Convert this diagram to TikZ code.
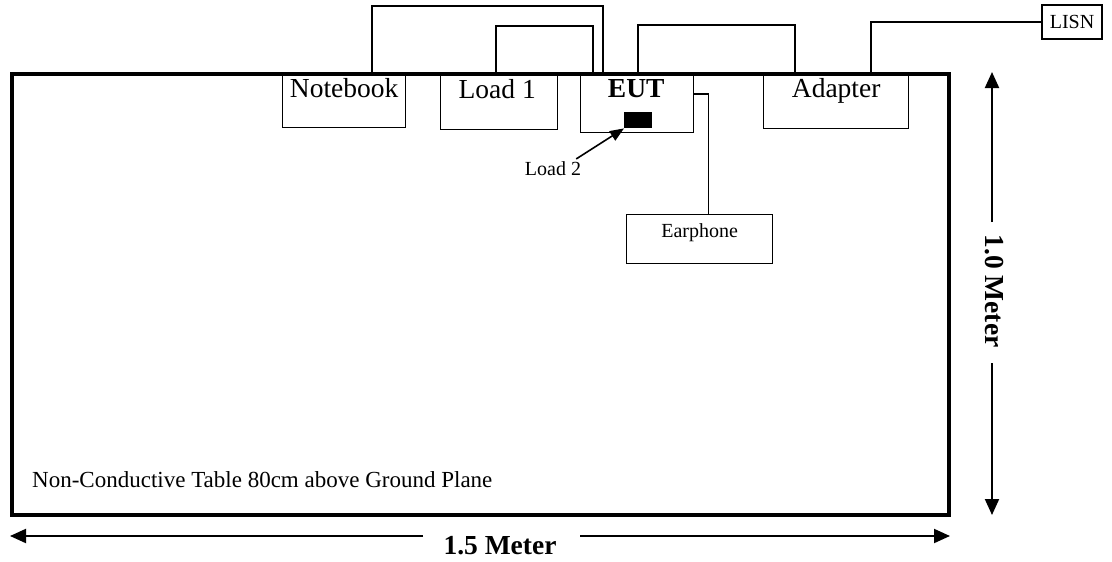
\documentclass[tikz,border=0pt]{standalone}
\usepackage{fontspec}
\setmainfont{Liberation Serif}
\usetikzlibrary{arrows.meta,calc}
\begin{document}
\begin{tikzpicture}[x=1pt,y=-1pt,
  box/.style={draw, line width=1.4pt, anchor=north west, inner sep=0pt},
  wire/.style={line width=1.3pt},
  big/.style={font=\fontsize{27.5}{30}\selectfont, anchor=base, inner sep=0pt},
  small/.style={font=\fontsize{20}{22}\selectfont, inner sep=0pt},
  dimline/.style={line width=2pt, -{Triangle[length=16pt,width=14pt]}}]
\useasboundingbox (0,0) rectangle (1112,562);
% table
\node[draw, line width=3.5pt, minimum width=937pt, minimum height=441pt, anchor=north west, inner sep=0pt] (table) at (10,72) {};
% boxes
\node[box, minimum width=123pt, minimum height=55pt] (nb) at (282,72) {};
\node[box, minimum width=117pt, minimum height=57pt] (l1) at (440,72) {};
\node[box, minimum width=113pt, minimum height=60pt] (eut) at (580,72) {};
\node[box, minimum width=145pt, minimum height=56pt] (ad) at (763,72) {};
\node[box, minimum width=146pt, minimum height=49pt] (ear) at (626,214) {};
\node[draw, line width=1.4pt, minimum width=60pt, minimum height=34pt, inner sep=0pt, font=\fontsize{20}{22}\selectfont] (lisn) at (1072,22) {LISN};
\node[fill=black, minimum width=28pt, minimum height=16pt, inner sep=0pt, anchor=north west] (blk) at (624,112) {};
% box texts
\node[big] at ($(nb.north)+(0,25)$) {Notebook};
\node[big] at ($(l1.north)+(-2,26)$) {Load 1};
\node[big] at ($(eut.north)+(-1,25)$) {\bfseries EUT};
\node[big] at ($(ad.north)+(0,25)$) {Adapter};
\node[small, anchor=base] at ($(ear.north)+(0,23)$) {Earphone};
\node[small, anchor=base] (l2) at (553,175) {Load 2};
\node[font=\fontsize{23}{25}\selectfont, anchor=base west, inner sep=0pt] (tbl) at (32,487) {Non-Conductive Table 80cm above Ground Plane};
% wires
\draw[wire] ([xshift=90pt]nb.north west) -- ++(0,-66) -| ([xshift=23pt]eut.north west);
\draw[wire] ([xshift=56pt]l1.north west) -- ++(0,-46) -| ([xshift=13pt]eut.north west);
\draw[wire] ([xshift=58pt]eut.north west) -- ++(0,-47) -| ([xshift=32pt]ad.north west);
\draw[wire] ([xshift=108pt]ad.north west) |- (lisn.west);
\draw[wire] ([yshift=-22pt]eut.north east) -| ([xshift=9pt]ear.north);
\draw[line width=1.6pt, -{Triangle[length=14pt,width=11pt]}] ($(l2.north east)+(-5,-2)$) -- (blk.south west);
% dimensions
\node[font=\fontsize{27.5}{30}\selectfont\bfseries, anchor=base, inner sep=0pt] (w) at (500,554) {1.5 Meter};
\coordinate (wl) at (10,536);
\coordinate (wr) at (950,536);
\draw[dimline] (423,536) -- (wl);
\draw[dimline] (580,536) -- (wr);
\node[font=\fontsize{27.5}{30}\selectfont\bfseries, rotate=-90, inner sep=0pt] (h) at (994,291) {1.0 Meter};
\coordinate (ht) at (992,72);
\coordinate (hb) at (992,515);
\draw[dimline] (992,222) -- (ht);
\draw[dimline] (992,363) -- (hb);
\end{tikzpicture}
\end{document}
